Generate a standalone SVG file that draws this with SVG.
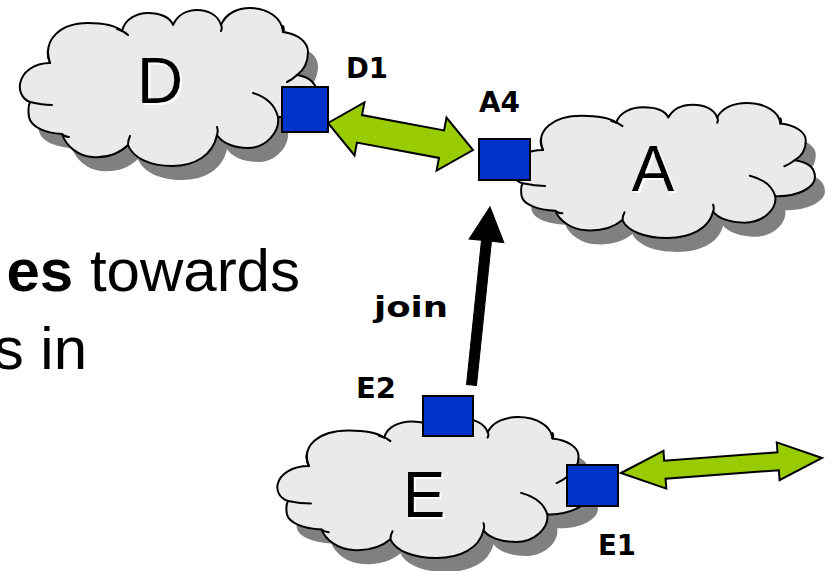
<svg xmlns="http://www.w3.org/2000/svg" xmlns:xlink="http://www.w3.org/1999/xlink" width="834" height="571" viewBox="0 0 834 571">
  <style>
    .cloud { fill: #eaeaea; stroke: #000; stroke-width: 2; stroke-linejoin: round; }
    .crease { fill: none; stroke: #000; stroke-width: 2; stroke-linecap: round; }
    .shadow { fill: #808080; stroke: none; }
    .port { fill: #0033cc; stroke: #000; stroke-width: 2; }
    .name { font-family: "Liberation Sans", Arial, sans-serif; font-size: 64px; fill: #000; text-anchor: middle; filter: url(#glow); }
    .label { font-family: "DejaVu Sans", Verdana, sans-serif; font-weight: bold; font-size: 28px; fill: #000; }
    .body { font-family: "Liberation Sans", Arial, sans-serif; font-size: 60px; fill: #000; }
    .link { fill: #99cc00; stroke: #000; stroke-width: 2; stroke-linejoin: miter; }
    .join { fill: #000; stroke: #000; stroke-width: 1; }
  </style>
  <defs>
    <!-- white embossed edge below/right of the domain letters -->
    <filter id="glow" x="-10%" y="-10%" width="130%" height="130%">
      <feOffset in="SourceAlpha" dx="2" dy="2" result="off"/>
      <feFlood flood-color="#ffffff"/>
      <feComposite in2="off" operator="in" result="white"/>
      <feMerge>
        <feMergeNode in="white"/>
        <feMergeNode in="SourceGraphic"/>
      </feMerge>
    </filter>
    <!-- cloud outline: eleven puffy lobes, drawn clockwise from the left -->
    <path id="cloud-outline" vector-effect="non-scaling-stroke"
          d="M50,63 C42,40 60,23 88,23 C104,23 116,26 122,31
             C125,18 138,13 148,13 C160,13 170,17 173,25
             C178,14 188,10 197,10 C208,10 218,15 221,25
             C226,13 238,8 250,8 C268,8 282,18 283,32
             C298,34 308,42 308,52 C308,62 304,70 297,75
             C310,77 317,84 317,95 C317,108 298,118 278,117
             C280,132 266,148 248,148 C234,148 222,143 217,135
             C213,155 195,166 172,166 C150,166 133,158 128,145
             C118,155 105,158 92,157 C78,156 66,146 62,134
             C45,133 31,127 29,117 C28,110 28,106 30,102
             C22,99 19,91 20,84 C22,72 34,63 50,63 Z"/>
    <!-- inner strokes where neighbouring lobes overlap -->
    <path id="cloud-creases" vector-effect="non-scaling-stroke"
          d="M50,63 C48,58 47,54 48,50 M117,29 C121,30 125,32 128,35
             M221,25 C222,27 222,29 221,31 M283,32 C284,30 284,28 283,26
             M297,75 C294,78 291,80 287,82 M253,93 C266,97 275,105 278,117
             M217,135 C218,132 218,130 217,127 M128,145 C128,141 129,138 130,136
             M62,134 C64,136 66,137 69,137 M30,102 C38,104 45,105 52,105"/>
  </defs>

  <!-- domain D -->
  <g id="node-D">
    <use xlink:href="#cloud-outline" class="shadow" transform="translate(10,14)"/>
    <use xlink:href="#cloud-outline" class="cloud"/>
    <use xlink:href="#cloud-creases" class="crease"/>
    <text class="name" x="160" y="103">D</text>
  </g>

  <!-- domain A -->
  <g id="node-A">
    <g transform="translate(10,14)">
      <use xlink:href="#cloud-outline" class="shadow" transform="matrix(1.0185 0 0 0.8544 492.1 96.2)"/>
    </g>
    <use xlink:href="#cloud-outline" class="cloud" transform="matrix(1.0185 0 0 0.8544 492.1 96.2)"/>
    <use xlink:href="#cloud-creases" class="crease" transform="matrix(1.0185 0 0 0.8544 492.1 96.2)"/>
    <text class="name" x="653" y="191">A</text>
  </g>

  <!-- domain E -->
  <g id="node-E">
    <g transform="translate(10,14)">
      <use xlink:href="#cloud-outline" class="shadow" transform="matrix(1.0454 0 0 0.8924 256.6 409.9)"/>
    </g>
    <use xlink:href="#cloud-outline" class="cloud" transform="matrix(1.0454 0 0 0.8924 256.6 409.9)"/>
    <use xlink:href="#cloud-creases" class="crease" transform="matrix(1.0454 0 0 0.8924 256.6 409.9)"/>
    <text class="name" x="424" y="517">E</text>
  </g>

  <!-- border ports -->
  <g id="port-D1">
    <rect class="port" x="282" y="87" width="46" height="45"/>
    <text class="label" x="346" y="78" textLength="42" lengthAdjust="spacingAndGlyphs">D1</text>
  </g>
  <g id="port-A4">
    <rect class="port" x="479" y="139" width="51" height="41"/>
    <text class="label" x="479" y="112" textLength="41" lengthAdjust="spacingAndGlyphs">A4</text>
  </g>
  <g id="port-E2">
    <rect class="port" x="423" y="396" width="50" height="40"/>
    <text class="label" x="356" y="398" textLength="40" lengthAdjust="spacingAndGlyphs">E2</text>
  </g>
  <g id="port-E1">
    <rect class="port" x="567" y="465" width="51" height="41"/>
    <text class="label" x="598" y="555" textLength="38" lengthAdjust="spacingAndGlyphs">E1</text>
  </g>

  <!-- body text -->
  <g id="caption">
    <text class="body" x="300" y="291" text-anchor="end"><tspan font-weight="bold">es</tspan> towards</text>
    <text class="body" x="87" y="369" text-anchor="end">s in</text>
  </g>

  <!-- connectors -->
  <g id="connectors">
    <!-- D1 <-> A4 peering link -->
    <polygon class="link" transform="translate(328,123) rotate(10.55)"
             points="0,0 32,-27 32,-14 115.5,-14 115.5,-27 147.5,0 115.5,27 115.5,14 32,14 32,27"/>
    <!-- E1 <-> outside link -->
    <polygon class="link" transform="translate(621,473) rotate(-4.27)"
             points="0,0 44,-19 44,-9 157.6,-9 157.6,-19 201.6,0 157.6,19 157.6,9 44,9 44,19"/>
    <!-- E2 joins A4 -->
    <polygon class="join" transform="translate(471.5,385) rotate(-84.07)"
             points="0,-5 145,-5 145,-17.5 179,0 145,17.5 145,5 0,5"/>
    <text class="label" x="374" y="317" font-size="38" textLength="74" lengthAdjust="spacingAndGlyphs">join</text>
  </g>
</svg>
